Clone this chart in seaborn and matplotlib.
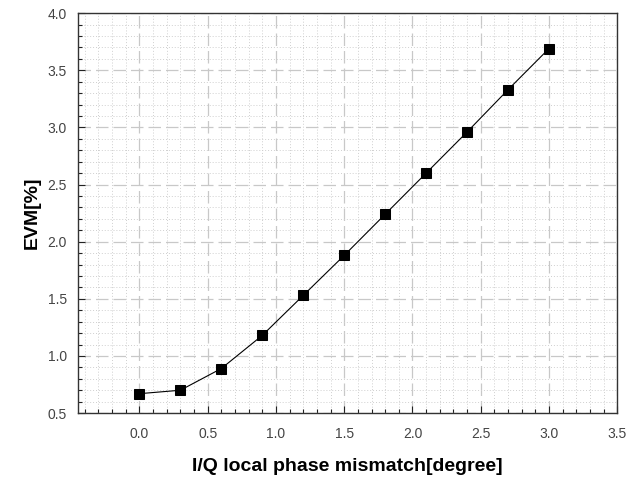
import numpy as np
import pandas as pd
import matplotlib
matplotlib.use("Agg")
import matplotlib.pyplot as plt
import seaborn as sns
from matplotlib.ticker import MultipleLocator, FormatStrFormatter

# data
phase_mismatch = [0.0, 0.3, 0.6, 0.9, 1.2, 1.5, 1.8, 2.1, 2.4, 2.7, 3.0]
evm_percent = [0.67, 0.70, 0.89, 1.18, 1.53, 1.88, 2.24, 2.60, 2.96, 3.33, 3.69]

df = pd.DataFrame({"phase": phase_mismatch, "evm": evm_percent})

sns.set_style("white")
plt.rcParams["font.family"] = ["Liberation Sans", "DejaVu Sans"]

fig = plt.figure(figsize=(6.39, 4.86), dpi=100)
ax = fig.add_axes([0.122, 0.150, 0.844, 0.823])

sns.lineplot(data=df, x="phase", y="evm", ax=ax, color="black", linewidth=0.8,
             marker="s", markersize=6.5, markeredgecolor="black", markerfacecolor="black")

ax.set_xlim(-0.45, 3.5)
ax.set_ylim(0.5, 4.0)
ax.xaxis.set_major_locator(MultipleLocator(0.5))
ax.xaxis.set_minor_locator(MultipleLocator(0.1))
ax.yaxis.set_major_locator(MultipleLocator(0.5))
ax.yaxis.set_minor_locator(MultipleLocator(0.1))
ax.xaxis.set_major_formatter(FormatStrFormatter("%.1f"))
ax.yaxis.set_major_formatter(FormatStrFormatter("%.1f"))

# grid: dashed major, dotted minor
ax.grid(which="major", color="#c8c8c8", linestyle=(0, (10, 4)), linewidth=0.9)
ax.grid(which="minor", color="#cfcfcf", linestyle=(0, (1, 2)), linewidth=0.7)
ax.set_axisbelow(True)

ax.tick_params(which="major", direction="in", length=5, width=0.8, colors="#222222",
               labelsize=10, labelcolor="#444444", top=False, right=False,
               left=True, bottom=True)
ax.tick_params(which="minor", direction="in", length=3, width=0.8, colors="#222222",
               top=False, right=False, left=True, bottom=True)
ax.tick_params(axis="x", pad=10)
ax.tick_params(axis="y", pad=8)

for side in ["left", "bottom", "top", "right"]:
    ax.spines[side].set_color("#333333")
    ax.spines[side].set_linewidth(1.0)

ax.set_xlabel("I/Q local phase mismatch[degree]", fontsize=14, fontweight="bold",
              labelpad=12, color="black")
ax.set_ylabel("EVM[%]", fontsize=14, fontweight="bold", labelpad=5, color="black")

fig.savefig("out.png", dpi=100)
